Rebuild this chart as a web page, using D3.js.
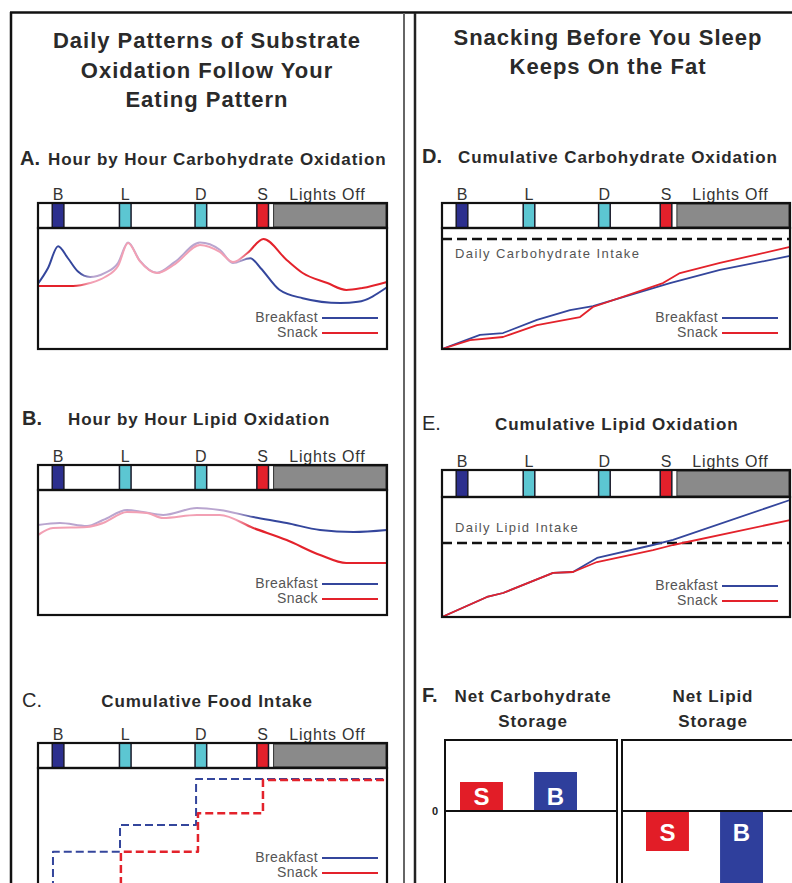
<!DOCTYPE html>
<html>
<head>
<meta charset="utf-8">
<script src="https://cdn.jsdelivr.net/npm/d3@7/dist/d3.min.js"></script>
<style>
  body { margin: 0; background: #fff; }
  svg { display: block; font-family: "Liberation Sans", Arial, sans-serif; }
</style>
</head>
<body>
<div id="chart"></div>
<script>
// Meal schedule, hours after waking (0 - 24)
var meals = ["B", "L", "D", "S"];
var mealHours = [1.38, 6.0, 11.2, 15.45];
var mealColours = ["#2c2f8e", "#5cc6d2", "#5cc6d2", "#e3202b"];
var lightsOffHour = 16.2;

// A. hour by hour carbohydrate oxidation, [hour, relative level]
var carbHourBreakfast = [[0,54],[0.69,67],[1.38,85],[2.06,75],[2.75,64],[3.58,59.5],[4.61,63],[5.5,71],[6.19,88],[7.0,73],[8.18,63],[9.42,72],[11.14,88],[12.5,82],[13.4,71],[14.6,75],[15.3,67],[16.6,49],[18.2,42],[20.8,38],[22.0,39],[24,51]];
var carbHourSnack = [[0,52],[2.41,52],[3.58,54.5],[4.61,59.5],[5.5,68.6],[6.19,87.6],[7.0,72.7],[8.18,62.8],[9.42,70.2],[11.14,86],[12.5,80.2],[13.4,71.9],[14.4,79.3],[15.5,91],[17.1,73.6],[18.2,62.8],[19.9,54.5],[21.2,48.8],[22.3,50.4],[24,55.4]];

// B. hour by hour lipid oxidation
var lipidHourBreakfast = [[0,72],[1.51,73.6],[3.37,71.2],[4.47,76],[6.12,84],[7.22,82.4],[8.6,80],[10.93,85.6],[12.5,84],[14.8,78.4],[17.1,73.6],[19.4,68],[21.7,66.4],[24,68]];
var lipidHourSnack = [[0,64],[1.03,69.6],[3.37,70.4],[4.47,73.6],[6.12,82.4],[7.5,81.6],[8.6,77.6],[10.93,80],[12.5,80],[14.8,69.6],[17.1,60],[19.4,48],[21.2,41.6],[24,41.6]];

// C. cumulative food intake, % of daily intake
var foodBreakfast = [[0,0],[1.03,32],[5.64,57],[10.87,100],[24,100]];
var foodSnack = [[0,0],[5.7,32],[11.0,68],[15.47,99],[24,99]];

// D. cumulative carbohydrate oxidation
var carbCumBreakfast = [[0,0],[2.62,11.6],[4.21,13.2],[6.55,24],[8.83,32.2],[10.41,35.5],[15.72,54.5],[19.17,65.3],[24,76.9]];
var carbCumSnack = [[0,0],[1.93,7.4],[4.21,9.9],[6.55,19.8],[9.52,26.4],[10.41,34.7],[15.24,54.5],[16.41,62.8],[19.17,71.1],[24,84.3]];
var dailyCarbIntake = 90.9;

// E. cumulative lipid oxidation
var lipidCumBreakfast = [[0,0],[3.1,16.7],[4.21,20],[7.66,36.7],[9.03,37.5],[10.69,49.2],[14.55,60],[15.93,64.2],[24,97.5]];
var lipidCumSnack = [[0,0],[3.1,16.7],[4.21,20],[7.66,36.7],[9.03,37.5],[10.69,45.8],[14.55,55.8],[15.93,60],[24,80.8]];
var dailyLipidIntake = 61.7;

// F. net storage
var storageGroups = ["S", "B"];
var carbStorage = [29, 39];
var lipidStorage = [-40, -76];

var blue = "#34469c", red = "#e3222b";
var paleBlue = "#b9a5cf", paleRed = "#f2a0b4";
var textColour = "#2a2a2a";

var svg = d3.select("#chart").append("svg")
  .attr("width", 792)
  .attr("height", 883);

var defs = svg.append("defs");

function renderFrame() {
  svg.append("line").attr("x1", 10).attr("x2", 792).attr("y1", 12.5).attr("y2", 12.5)
    .attr("stroke", "#111").attr("stroke-width", 2.5);
  svg.append("line").attr("x1", 11).attr("x2", 11).attr("y1", 12).attr("y2", 883)
    .attr("stroke", "#111").attr("stroke-width", 2.5);
  svg.append("line").attr("x1", 404).attr("x2", 404).attr("y1", 13).attr("y2", 883)
    .attr("stroke", "#666").attr("stroke-width", 2);
  svg.append("line").attr("x1", 415).attr("x2", 415).attr("y1", 13).attr("y2", 883)
    .attr("stroke", "#222").attr("stroke-width", 2.5);

  // column headings
  var left = ["Daily Patterns of Substrate", "Oxidation Follow Your", "Eating Pattern"];
  svg.selectAll("text.head-left").data(left).enter().append("text")
    .attr("class", "head-left")
    .attr("x", 207).attr("y", function (d, i) { return 48 + i * 29.5; })
    .attr("text-anchor", "middle")
    .style("font-size", "22px").style("font-weight", "bold").style("letter-spacing", "1px")
    .style("fill", textColour)
    .text(function (d) { return d; });

  var right = ["Snacking Before You Sleep", "Keeps On the Fat"];
  svg.selectAll("text.head-right").data(right).enter().append("text")
    .attr("class", "head-right")
    .attr("x", 608).attr("y", function (d, i) { return 45 + i * 28.5; })
    .attr("text-anchor", "middle")
    .style("font-size", "22px").style("font-weight", "bold").style("letter-spacing", "1px")
    .style("fill", textColour)
    .text(function (d) { return d; });
}

// Draws the title, meal strip and the empty plot box; returns the scales
function renderMealPanel(p) {
  var g = svg.append("g");
  var x = d3.scaleLinear().domain([0, 24]).range([p.x0, p.x1]);
  var y = d3.scaleLinear().domain(p.yDomain || [0, 100]).range(p.yRange || [p.boxBottom, p.boxTop]);

  g.append("text")
    .attr("x", p.letterX).attr("y", p.titleY)
    .style("font-size", "20px").style("font-weight", p.letterBold ? "bold" : "normal")
    .style("fill", textColour)
    .text(p.letter);

  g.append("text")
    .attr("x", p.titleX).attr("y", p.titleY)
    .attr("text-anchor", p.titleAnchor || "start")
    .style("font-size", "17px").style("font-weight", "bold").style("letter-spacing", "0.9px")
    .style("fill", textColour)
    .text(p.title);

  g.selectAll("text.meal").data(meals).enter().append("text")
    .attr("class", "meal")
    .attr("x", function (d, i) { return x(mealHours[i]); })
    .attr("y", p.barTop - 3)
    .attr("text-anchor", "middle")
    .style("font-size", "16px").style("fill", "#333")
    .text(function (d) { return d; });

  g.append("text")
    .attr("x", (x(lightsOffHour) + x(24)) / 2 - 3).attr("y", p.barTop - 3)
    .attr("text-anchor", "middle")
    .style("font-size", "16px").style("letter-spacing", "0.8px").style("fill", "#333")
    .text("Lights Off");

  // lights off block
  g.append("rect")
    .attr("x", x(lightsOffHour)).attr("y", p.barTop + 1)
    .attr("width", x(24) - x(lightsOffHour) - 1).attr("height", p.boxTop - p.barTop - 2)
    .attr("fill", "#8a8a8a").attr("stroke", "#333").attr("stroke-width", 1);

  g.selectAll("rect.meal").data(meals).enter().append("rect")
    .attr("class", "meal")
    .attr("x", function (d, i) { return x(mealHours[i] - 0.4); })
    .attr("y", p.barTop)
    .attr("width", x(0.8) - x(0))
    .attr("height", p.boxTop - p.barTop)
    .attr("fill", function (d, i) { return mealColours[i]; })
    .attr("stroke", "#1a1a2a").attr("stroke-width", 1.5);

  g.append("rect")
    .attr("x", p.x0).attr("y", p.barTop)
    .attr("width", p.x1 - p.x0).attr("height", p.boxTop - p.barTop)
    .attr("fill", "none").attr("stroke", "#111").attr("stroke-width", 2.2);

  return { g: g, x: x, y: y, p: p };
}

function renderBox(panel) {
  var p = panel.p;
  panel.g.append("rect")
    .attr("x", p.x0).attr("y", p.boxTop)
    .attr("width", p.x1 - p.x0).attr("height", p.boxBottom - p.boxTop)
    .attr("fill", "none").attr("stroke", "#111").attr("stroke-width", 2.2);
}

// gradient stroke that pales in the middle of the day
function fadeGradient(id, panel, colour, pale, stops) {
  var grad = defs.append("linearGradient")
    .attr("id", id)
    .attr("gradientUnits", "userSpaceOnUse")
    .attr("x1", panel.x(0)).attr("x2", panel.x(24))
    .attr("y1", 0).attr("y2", 0);
  var cols = [colour, pale, pale, colour];
  stops.forEach(function (h, i) {
    grad.append("stop").attr("offset", h / 24).attr("stop-color", cols[i]);
  });
  return "url(#" + id + ")";
}

function renderSeries(panel, series, stroke, width, curve, dash) {
  var line = d3.line()
    .x(function (d) { return panel.x(d[0]); })
    .y(function (d) { return panel.y(d[1]); })
    .curve(curve || d3.curveMonotoneX);
  panel.g.append("path")
    .datum(series)
    .attr("d", line)
    .attr("fill", "none")
    .attr("stroke", stroke)
    .attr("stroke-width", width)
    .attr("stroke-dasharray", dash || null)
    .attr("stroke-linejoin", "round");
}

function renderLegend(panel) {
  var p = panel.p;
  var items = [{ name: "Breakfast", colour: blue, dy: -31 }, { name: "Snack", colour: red, dy: -16 }];
  var leg = panel.g.selectAll("g.legend").data(items).enter().append("g").attr("class", "legend");
  leg.append("text")
    .attr("x", p.x1 - p.legendGap - 60).attr("y", function (d) { return p.boxBottom + d.dy + 4; })
    .attr("text-anchor", "end")
    .style("font-size", "14px").style("letter-spacing", "0.4px").style("fill", "#555")
    .text(function (d) { return d.name; });
  leg.append("line")
    .attr("x1", p.x1 - p.legendGap - 56).attr("x2", p.x1 - p.legendGap)
    .attr("y1", function (d) { return p.boxBottom + d.dy; })
    .attr("y2", function (d) { return p.boxBottom + d.dy; })
    .attr("stroke", function (d) { return d.colour; })
    .attr("stroke-width", 2);
}

function renderIntake(panel, value, label, labelY) {
  var p = panel.p;
  panel.g.append("line")
    .attr("x1", p.x0).attr("x2", p.x1)
    .attr("y1", panel.y(value)).attr("y2", panel.y(value))
    .attr("stroke", "#111").attr("stroke-width", 2.5)
    .attr("stroke-dasharray", "10,5");
  panel.g.append("text")
    .attr("x", p.x0 + 13).attr("y", labelY)
    .style("font-size", "13px").style("letter-spacing", "1.4px").style("fill", "#555")
    .text(label);
}

function renderStorage() {
  var g = svg.append("g");
  var y = d3.scaleLinear().domain([0, 40]).range([811, 771]);
  var boxes = [
    { x0: 445, x1: 617, inset: 15, data: carbStorage, title: ["Net Carbohydrate", "Storage"], cx: 533 },
    { x0: 622, x1: 800, inset: 24, data: lipidStorage, title: ["Net Lipid", "Storage"], cx: 713 }
  ];

  g.append("text").attr("x", 422).attr("y", 702)
    .style("font-size", "20px").style("font-weight", "bold").style("fill", textColour)
    .text("F.");

  g.append("text").attr("x", 435).attr("y", 815)
    .attr("text-anchor", "middle")
    .style("font-size", "11px").style("font-weight", "bold").style("fill", "#222")
    .text("0");

  boxes.forEach(function (b) {
    b.title.forEach(function (t, i) {
      g.append("text").attr("x", b.cx).attr("y", 702 + i * 25)
        .attr("text-anchor", "middle")
        .style("font-size", "17px").style("font-weight", "bold").style("letter-spacing", "0.9px")
        .style("fill", textColour)
        .text(t);
    });

    var x = d3.scaleBand().domain(storageGroups)
      .range([b.x0 + b.inset, b.x0 + b.inset + 117])
      .paddingInner(0.42).paddingOuter(0);

    g.selectAll(null).data(b.data).enter().append("rect")
      .attr("x", function (d, i) { return x(storageGroups[i]); })
      .attr("y", function (d) { return Math.min(y(d), y(0)); })
      .attr("width", x.bandwidth())
      .attr("height", function (d) { return Math.abs(y(d) - y(0)); })
      .attr("fill", function (d, i) { return storageGroups[i] === "S" ? "#e21d27" : "#2f3f9c"; });

    g.selectAll(null).data(b.data).enter().append("text")
      .attr("x", function (d, i) { return x(storageGroups[i]) + x.bandwidth() / 2; })
      .attr("y", function (d) { return d > 0 ? y(0) - 6 : y(0) + 30; })
      .attr("text-anchor", "middle")
      .style("font-size", "24px").style("font-weight", "bold").style("fill", "#fff")
      .text(function (d, i) { return storageGroups[i]; });

    g.append("line").attr("x1", b.x0).attr("x2", b.x1).attr("y1", y(0)).attr("y2", y(0))
      .attr("stroke", "#111").attr("stroke-width", 2);

    g.append("rect")
      .attr("x", b.x0).attr("y", 740)
      .attr("width", b.x1 - b.x0).attr("height", 170)
      .attr("fill", "none").attr("stroke", "#111").attr("stroke-width", 2);
  });
}

renderFrame();

// A
var panelA = renderMealPanel({ letter: "A.", letterX: 20, letterBold: true, title: "Hour by Hour Carbohydrate Oxidation",
  titleX: 48, titleY: 165, x0: 38, x1: 387, barTop: 203, boxTop: 228, boxBottom: 349, legendGap: 9 });
renderSeries(panelA, carbHourBreakfast, fadeGradient("ga-b", panelA, blue, paleBlue, [2.8, 3.8, 13.8, 14.8]), 2);
renderSeries(panelA, carbHourSnack, fadeGradient("ga-s", panelA, red, paleRed, [2.4, 3.6, 13.8, 14.8]), 2);
renderLegend(panelA);
renderBox(panelA);

// B
var panelB = renderMealPanel({ letter: "B.", letterX: 22, letterBold: true, title: "Hour by Hour Lipid Oxidation",
  titleX: 68, titleY: 425, x0: 38, x1: 387, barTop: 465, boxTop: 490, boxBottom: 615, legendGap: 9 });
renderSeries(panelB, lipidHourBreakfast, fadeGradient("gb-b", panelB, blue, paleBlue, [0, 0.1, 13.6, 15.0]), 2);
renderSeries(panelB, lipidHourSnack, fadeGradient("gb-s", panelB, red, paleRed, [0, 0.1, 13.6, 15.0]), 2.2);
renderLegend(panelB);
renderBox(panelB);

// C
var panelC = renderMealPanel({ letter: "C.", letterX: 22, letterBold: false, title: "Cumulative Food Intake",
  titleX: 207, titleAnchor: "middle", titleY: 707, x0: 38, x1: 387, barTop: 743, boxTop: 768, boxBottom: 889,
  yRange: [886, 779], legendGap: 9 });
renderSeries(panelC, foodBreakfast, blue, 2, d3.curveStepAfter, "8,4");
renderSeries(panelC, foodSnack, red, 2.5, d3.curveStepAfter, "8,4");
renderLegend(panelC);
renderBox(panelC);

// D
var panelD = renderMealPanel({ letter: "D.", letterX: 422, letterBold: true, title: "Cumulative Carbohydrate Oxidation",
  titleX: 458, titleY: 163, x0: 442, x1: 790, barTop: 203, boxTop: 228, boxBottom: 349, legendGap: 12 });
renderIntake(panelD, dailyCarbIntake, "Daily Carbohydrate Intake", 258);
renderSeries(panelD, carbCumBreakfast, blue, 1.8, d3.curveLinear);
renderSeries(panelD, carbCumSnack, red, 1.8, d3.curveLinear);
renderLegend(panelD);
renderBox(panelD);

// E
var panelE = renderMealPanel({ letter: "E.", letterX: 422, letterBold: false, title: "Cumulative Lipid Oxidation",
  titleX: 495, titleY: 430, x0: 442, x1: 790, barTop: 470, boxTop: 497, boxBottom: 617, legendGap: 12 });
renderIntake(panelE, dailyLipidIntake, "Daily Lipid Intake", 532);
renderSeries(panelE, lipidCumBreakfast, blue, 1.8, d3.curveLinear);
renderSeries(panelE, lipidCumSnack, red, 1.8, d3.curveLinear);
renderLegend(panelE);
renderBox(panelE);

// F
renderStorage();
</script>
</body>
</html>
